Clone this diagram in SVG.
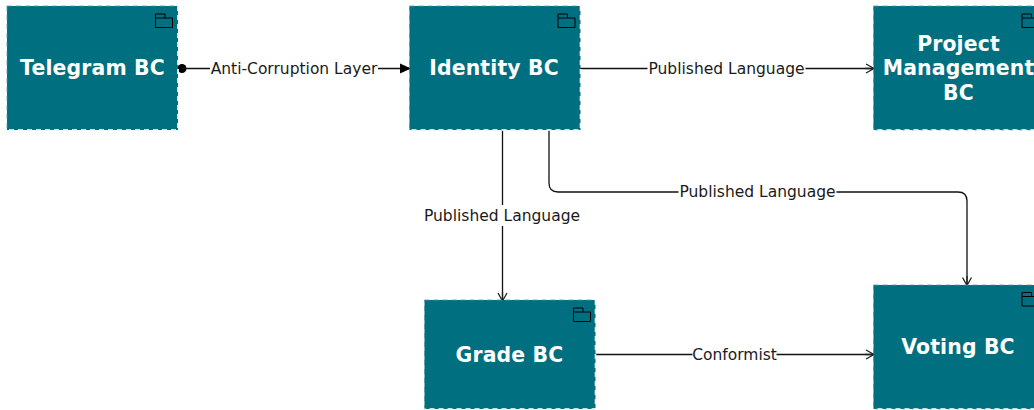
<svg xmlns="http://www.w3.org/2000/svg" width="1034" height="410" viewBox="0 0 1034 410">
<style>
.box{fill:#006f7f;stroke:#4d9aa5;stroke-width:0.8;stroke-dasharray:5 4}
.edge{stroke:#fff;stroke-width:1.6;stroke-dasharray:5 4;fill:none}
.ico{fill:none;stroke:#000;stroke-width:1}
.t{font-family:"DejaVu Sans",sans-serif;font-weight:700;font-size:20.4px;letter-spacing:.15px;fill:#fff;text-anchor:middle}
.l{font-family:"DejaVu Sans",sans-serif;font-size:15.5px;fill:#1a1a1a;text-anchor:middle}
.c{fill:none;stroke:#111;stroke-width:1.3}
.bg{fill:#fff}
</style>
<defs>
<marker id="open" markerWidth="12" markerHeight="12" refX="10" refY="6" orient="auto" markerUnits="userSpaceOnUse"><path d="M1.500 1.500L9.500 6L1.500 10.500M9.500 6H0" fill="none" stroke="#222" stroke-width="1.3"/></marker>
<marker id="solid" markerWidth="13" markerHeight="12" refX="11" refY="6" orient="auto" markerUnits="userSpaceOnUse"><path d="M0 1L11 6L0 11Z" fill="#000"/></marker>
</defs>
<g id="connectors">
<circle cx="182" cy="68.500" r="4.500" fill="#000"/>
<path class="c" d="M182 68.500H411" marker-end="url(#solid)"/>
<path class="c" d="M580 68.500H874.500" marker-end="url(#open)"/>
<path class="c" d="M502.500 130V301.500" marker-end="url(#open)"/>
<path class="c" d="M549 130V183Q549 192 558 192H958Q967 192 967 201V286" marker-end="url(#open)"/>
<path class="c" d="M595 354.500H874.500" marker-end="url(#open)"/>
<rect class="bg" x="210" y="58" width="168" height="21"/><text class="l" x="294" y="74.300">Anti-Corruption Layer</text>
<rect class="bg" x="647.500" y="58" width="158" height="21"/><text class="l" x="726.500" y="74.300">Published Language</text>
<rect class="bg" x="423" y="205" width="158" height="21"/><text class="l" x="502" y="221.300">Published Language</text>
<rect class="bg" x="678.500" y="181" width="158" height="21"/><text class="l" x="757.500" y="197.300">Published Language</text>
<rect class="bg" x="692.500" y="344" width="84" height="21"/><text class="l" x="734.500" y="360.300">Conformist</text>
</g>
<g id="telegram"><rect class="box" x="7" y="6" width="171" height="124"/><path class="edge" d="M178 6V130H7"/><path class="ico" d="M155.500 27.500V14H165V18H172.500V27.500ZM155.500 18H165"/><text class="t" x="92.500" y="75.300">Telegram BC</text></g>
<g id="identity"><rect class="box" x="409.500" y="6" width="171" height="124"/><path class="edge" d="M580.500 6V130H409.500"/><path class="ico" d="M558 27.500V14H567.500V18H575V27.500ZM558 18H567.500"/><text class="t" x="494" y="75.300">Identity BC</text></g>
<g id="project"><rect class="box" x="873.500" y="6" width="171" height="124"/><path class="edge" d="M1044.500 130H873.500"/><path class="ico" d="M1022 27.500V14H1031.500V18H1039V27.500ZM1022 18H1031.500"/><text class="t" x="958.500" y="50.800">Project</text><text class="t" x="958.500" y="75.300">Management</text><text class="t" x="958.500" y="99.800">BC</text></g>
<g id="grade"><rect class="box" x="424.500" y="300" width="171" height="109"/><path class="edge" d="M595.500 300V409H424.500"/><path class="ico" d="M573.500 321.500V308H583V312H590.500V321.500ZM573.500 312H583"/><text class="t" x="509.500" y="361.800">Grade BC</text></g>
<g id="voting"><rect class="box" x="873.500" y="285" width="171" height="124"/><path class="edge" d="M1044.500 409H873.500"/><path class="ico" d="M1022 306V292.500H1031.500V296.500H1039V306ZM1022 296.500H1031.500"/><text class="t" x="958" y="354.300">Voting BC</text></g>
</svg>
